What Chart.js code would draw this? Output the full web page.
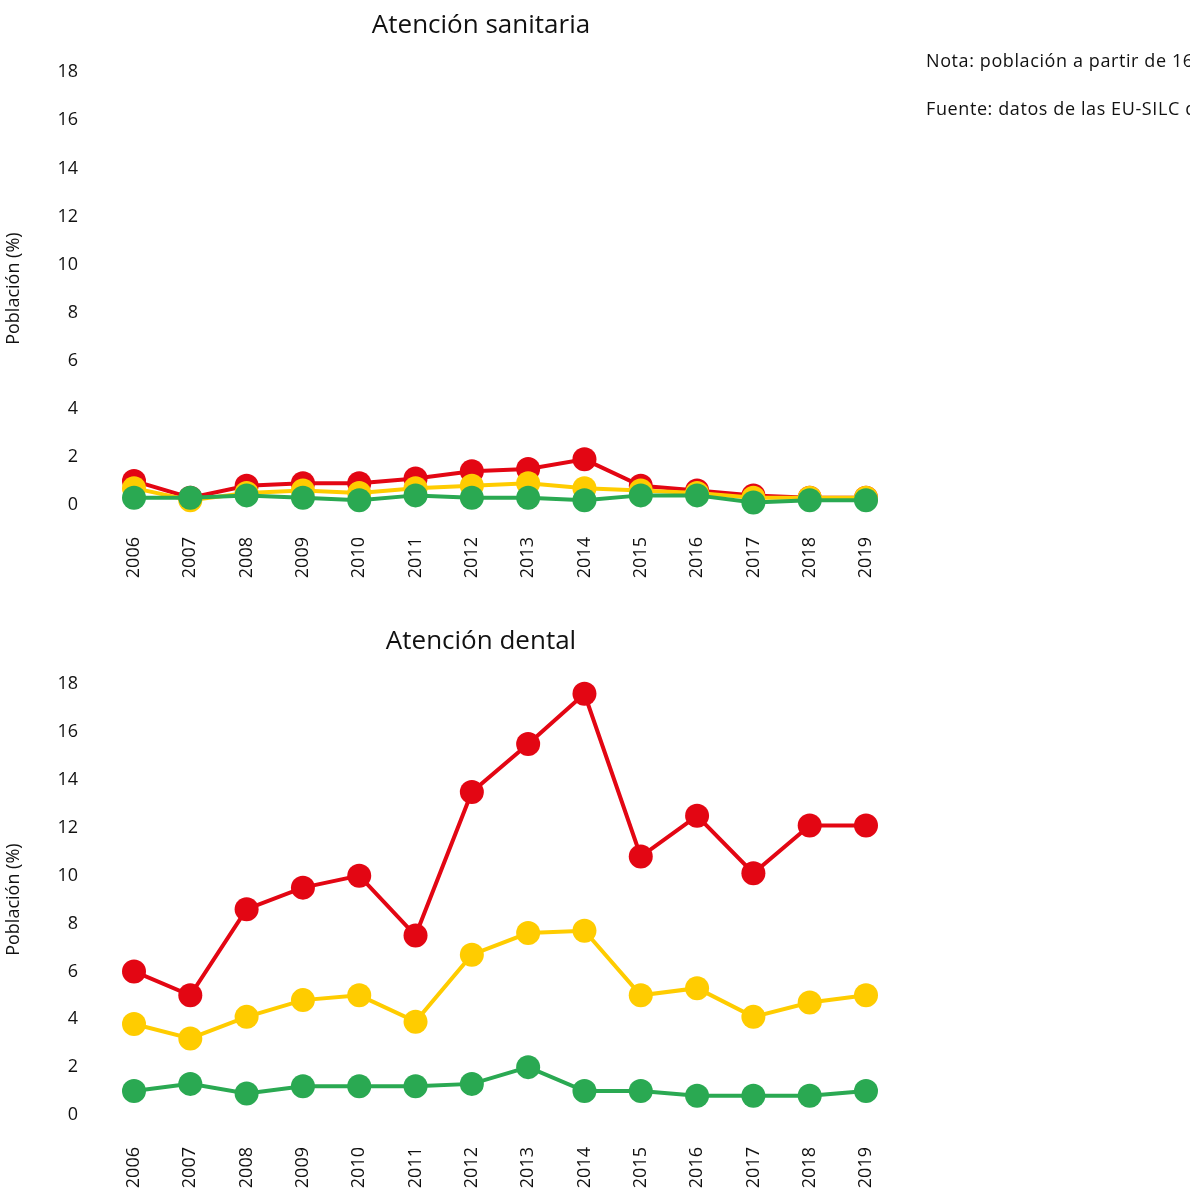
<!DOCTYPE html>
<html>
<head>
<meta charset="utf-8">
<script src="https://cdn.jsdelivr.net/npm/chart.js@4"></script>
<style>
  html, body { margin: 0; padding: 0; background: #fff; overflow: hidden; }
  body { width: 1190px; height: 1192px; position: relative; font-family: "Open Sans", sans-serif; }
  .box { position: absolute; left: 0; width: 962px; }
  #top { top: 0; height: 600px; }
  #bottom { top: 600px; height: 592px; }
  .note { position: absolute; left: 926px; font-size: 18px; letter-spacing: 0.6px; color: #111; white-space: nowrap; line-height: 22px; }
</style>
</head>
<body>
<div class="box" id="top"><canvas id="chartTop"></canvas></div>
<div class="box" id="bottom"><canvas id="chartBottom"></canvas></div>
<div class="note" style="top:49px">Nota: población a partir de 16 años.</div>
<div class="note" style="top:97px">Fuente: datos de las EU-SILC de Eurostat.</div>
<script>
// Years
const years = ['2006', '2007', '2008', '2009', '2010', '2011', '2012', '2013', '2014', '2015', '2016', '2017', '2018', '2019'];

// Atención sanitaria (%)
const sanRed = [1.0, 0.3, 0.8, 0.9, 0.9, 1.1, 1.4, 1.5, 1.9, 0.8, 0.6, 0.4, 0.3, 0.3];
const sanYellow = [0.7, 0.2, 0.5, 0.6, 0.5, 0.7, 0.8, 0.9, 0.7, 0.6, 0.5, 0.3, 0.3, 0.3];
const sanGreen = [0.3, 0.3, 0.4, 0.3, 0.2, 0.4, 0.3, 0.3, 0.2, 0.4, 0.4, 0.1, 0.2, 0.2];

// Atención dental (%)
const denRed = [6.0, 5.0, 8.6, 9.5, 10.0, 7.5, 13.5, 15.5, 17.6, 10.8, 12.5, 10.1, 12.1, 12.1];
const denYellow = [3.8, 3.2, 4.1, 4.8, 5.0, 3.9, 6.7, 7.6, 7.7, 5.0, 5.3, 4.1, 4.7, 5.0];
const denGreen = [1.0, 1.3, 0.9, 1.2, 1.2, 1.2, 1.3, 2.0, 1.0, 1.0, 0.8, 0.8, 0.8, 1.0];

const RED = '#e30613';
const YELLOW = '#ffcc00';
const GREEN = '#2aa952';
const FONT = '"Open Sans", sans-serif';

function series(data, color) {
    return {
        data: data,
        yAxisID: 'y',
        borderColor: color,
        backgroundColor: color,
        pointBackgroundColor: color,
        pointBorderWidth: 0,
        borderWidth: 4,
        pointRadius: 12,
        pointHoverRadius: 12,
        tension: 0,
        clip: false
    };
}

function makeChart(id, title, red, yellow, green, titlePad, xHeight) {
    const ctx = document.getElementById(id).getContext('2d');
    return new Chart(ctx, {
        type: 'line',
        data: {
            labels: years,
            // green first so it sits on top
            datasets: [series(green, GREEN), series(yellow, YELLOW), series(red, RED)]
        },
        options: {
            responsive: true,
            maintainAspectRatio: false,
            animation: false,
            layout: { padding: 0 },
            plugins: {
                legend: { display: false },
                tooltip: { enabled: false },
                title: {
                    display: true,
                    text: title,
                    color: '#111',
                    font: { family: FONT, size: 26, weight: 'normal' },
                    padding: titlePad
                }
            },
            scales: {
                x: {
                    offset: false,
                    grid: { display: false },
                    border: { display: false },
                    ticks: {
                        color: '#111',
                        font: { family: FONT, size: 18 },
                        minRotation: 90,
                        maxRotation: 90,
                        padding: 24,
                        autoSkip: false
                    },
                    afterFit: function (scale) { scale.height = xHeight; }
                },
                y: {
                    min: 0,
                    max: 18,
                    grid: { display: false },
                    border: { display: false },
                    ticks: {
                        stepSize: 2,
                        color: '#111',
                        font: { family: FONT, size: 18 },
                        padding: 48
                    },
                    title: {
                        display: true,
                        text: 'Población (%)',
                        color: '#111',
                        font: { family: FONT, size: 18 },
                        padding: { top: 3, bottom: 4 }
                    },
                    afterFit: function (scale) { scale.width = 134; }
                },
                // empty right axis, only keeps room on the right
                y2: {
                    position: 'right',
                    min: 0,
                    max: 18,
                    grid: { display: false },
                    border: { display: false },
                    ticks: { display: false },
                    afterFit: function (scale) { scale.width = 96; }
                }
            }
        }
    });
}

makeChart('chartTop', 'Atención sanitaria', sanRed, sanYellow, sanGreen, { top: 10, bottom: 31 }, 95);
makeChart('chartBottom', 'Atención dental', denRed, denYellow, denGreen, { top: 26, bottom: 27 }, 77);
</script>
</body>
</html>
